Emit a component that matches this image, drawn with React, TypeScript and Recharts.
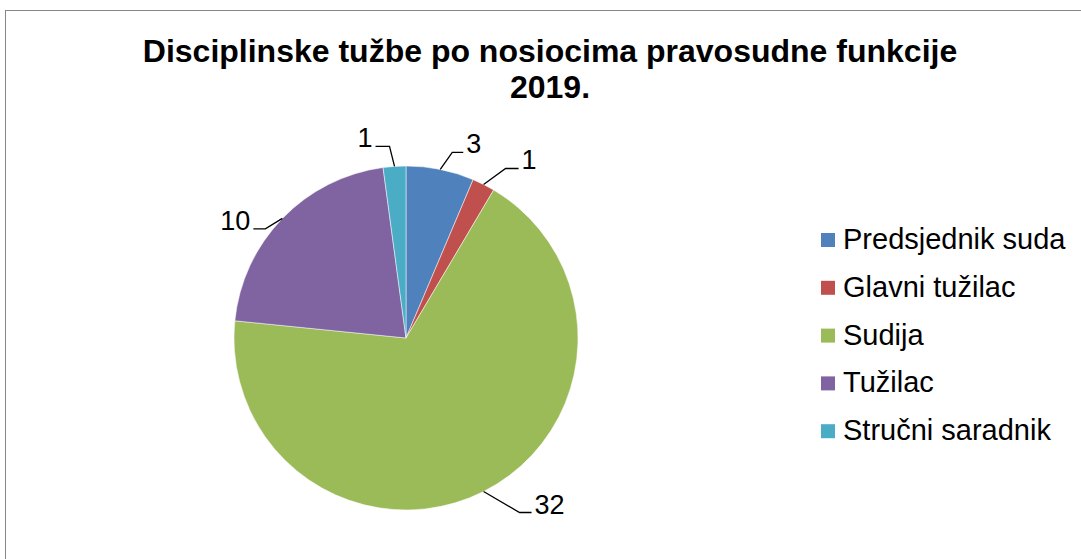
import { PieChart, Pie, Cell, Legend } from 'recharts';

const CATEGORIES = ['Predsjednik suda', 'Glavni tužilac', 'Sudija', 'Tužilac', 'Stručni saradnik'];
const VALUES = [3, 1, 32, 10, 1];
const COLORS = ['#4F81BD', '#C0504D', '#9BBB59', '#8064A2', '#4BACC6'];
const TITLE_LINES = ['Disciplinske tužbe po nosiocima pravosudne funkcije', '2019.'];

// leader line geometry per slice: elbow offset from the slice edge, then horizontal tail
const LEADER_ELBOW = [[12, -17], [22, -16], [36, 21], [-17, 10.5], [-5, -20]];
const LEADER_TAIL = [11, 13, 12, -12, -14];

const FONT = '"Liberation Sans", Arial, sans-serif';
const RAD = Math.PI / 180;

const data = CATEGORIES.map((name, i) => ({ name, value: VALUES[i] }));

function renderLabel(props: any) {
  const { cx, cy, midAngle, outerRadius, value, index } = props;
  const ex = cx + outerRadius * Math.cos(-midAngle * RAD);
  const ey = cy + outerRadius * Math.sin(-midAngle * RAD);
  const [dx, dy] = LEADER_ELBOW[index];
  const mx = ex + dx;
  const my = ey + dy;
  const tx = mx + LEADER_TAIL[index];
  const right = LEADER_TAIL[index] > 0;
  return (
    <g>
      <polyline points={`${ex},${ey} ${mx},${my} ${tx},${my}`} fill="none" stroke="#000" strokeWidth={1.3} />
      <text x={right ? tx + 3 : tx - 3} y={my + 1} textAnchor={right ? 'start' : 'end'}
        fontFamily={FONT} fontSize={27} fill="#000">
        {value}
      </text>
    </g>
  );
}

// legend keeps the data order (the built-in payload gets sorted)
function LegendContent() {
  return (
    <svg width={260} height={260}>
      {CATEGORIES.map((name, i) => (
        <g key={name}>
          <rect x={0} y={10 + i * 47.8} width={14} height={14} fill={COLORS[i]} />
          <text x={22} y={26 + i * 47.8} fontFamily={FONT} fontSize={29} fill="#000">{name}</text>
        </g>
      ))}
    </svg>
  );
}

export default function App() {
  return (
    <div style={{ position: 'fixed', left: 0, top: 0, width: 1081, height: 559, overflow: 'hidden', background: '#fff' }}>
      <div style={{ position: 'absolute', left: 5, top: 10, width: 1200, height: 700, border: '1.5px solid #878787' }} />
      <svg style={{ position: 'absolute', left: 0, top: 0 }} width={1081} height={120}>
        {TITLE_LINES.map((t, i) => (
          <text key={t} x={550} y={61.5 + i * 36} textAnchor="middle" fontFamily={FONT}
            fontWeight="bold" fontSize={32} fill="#000">{t}</text>
        ))}
      </svg>
      <div style={{ position: 'absolute', left: 0, top: 0 }}>
        <PieChart width={1081} height={559} margin={{ top: 0, right: 0, bottom: 0, left: 0 }}>
          <Pie data={data} dataKey="value" nameKey="name" cx={406} cy={338} outerRadius={172}
            startAngle={90} endAngle={-270} stroke="#fff" strokeWidth={0.5}
            label={renderLabel} labelLine={false} isAnimationActive={false}>
            {data.map((d, i) => <Cell key={d.name} fill={COLORS[i]} />)}
          </Pie>
          <Legend layout="vertical" content={<LegendContent />}
            wrapperStyle={{ position: 'absolute', left: 821, top: 223, width: 260, height: 260 }} />
        </PieChart>
      </div>
    </div>
  );
}
